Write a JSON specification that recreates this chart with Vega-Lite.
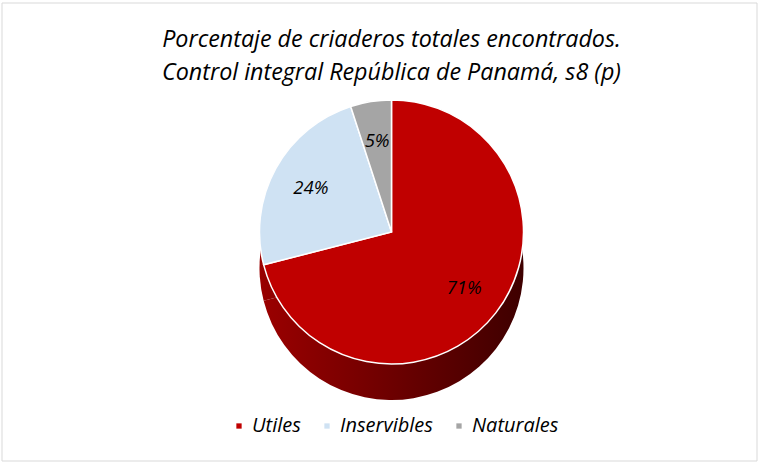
{
  "$schema": "https://vega.github.io/schema/vega-lite/v6.json",
  "width": 755,
  "height": 458,
  "autosize": {"type": "none"},
  "padding": {"left": 2, "top": 3, "right": 5, "bottom": 6},
  "background": "#ffffff",
  "config": {
    "view": {"stroke": null},
    "font": "Open Sans"
  },
  "title": {
    "text": ["Porcentaje de criaderos totales encontrados.", "Control integral República de Panamá, s8 (p)"],
    "orient": "top",
    "anchor": "middle",
    "offset": -83,
    "dx": 12,
    "font": "Open Sans",
    "fontSize": 23.3,
    "fontStyle": "italic",
    "fontWeight": "normal",
    "color": "#000000",
    "lineHeight": 33
  },
  "data": {
    "values": [
      {"categoria": "Utiles", "valor": 0.71, "orden": 1},
      {"categoria": "Inservibles", "valor": 0.24, "orden": 2},
      {"categoria": "Naturales", "valor": 0.05, "orden": 3}
    ]
  },
  "layer": [
    {
      "data": {"values": [{"marco": 1}]},
      "mark": {"type": "rect", "fill": null, "stroke": "#d9d9d9", "strokeWidth": 1},
      "encoding": {}
    },
    {
      "mark": {
        "type": "arc",
        "radius": 132,
        "yOffset": 36,
        "xOffset": 12,
        "fill": {
          "gradient": "linear",
          "x1": 0, "y1": 0, "x2": 1, "y2": 0,
          "stops": [
            {"offset": 0, "color": "#9a0000"},
            {"offset": 1, "color": "#3e0000"}
          ]
        }
      },
      "encoding": {
        "theta": {"field": "valor", "type": "quantitative", "stack": true},
        "order": {"field": "orden", "type": "quantitative"}
      }
    },
    {
      "mark": {"type": "arc", "radius": 132, "yOffset": 0, "xOffset": 12, "stroke": "#ffffff", "strokeWidth": 1.5},
      "encoding": {
        "theta": {"field": "valor", "type": "quantitative", "stack": true},
        "order": {"field": "orden", "type": "quantitative"},
        "color": {
          "field": "categoria",
          "type": "nominal",
          "scale": {"domain": ["Utiles", "Inservibles", "Naturales"], "range": ["#c00000", "#cfe2f3", "#a5a5a5"]},
          "legend": {
            "title": null,
            "orient": "none",
            "direction": "horizontal",
            "legendX": 227,
            "legendY": 413,
            "symbolType": "square",
            "symbolSize": 28,
            "symbolStrokeWidth": 0,
            "labelFont": "Open Sans",
            "labelFontSize": 20,
            "labelFontStyle": "italic",
            "labelColor": "#000000",
            "columnPadding": 16,
            "labelOffset": 3
          }
        }
      }
    },
    {
      "mark": {"type": "text", "radius": 92, "yOffset": 0, "xOffset": 12, "font": "Open Sans", "fontSize": 18.5, "fontStyle": "italic", "color": "#000000"},
      "encoding": {
        "theta": {"field": "valor", "type": "quantitative", "stack": true},
        "order": {"field": "orden", "type": "quantitative"},
        "text": {"field": "valor", "type": "quantitative", "format": ".0%"}
      }
    }
  ]
}
